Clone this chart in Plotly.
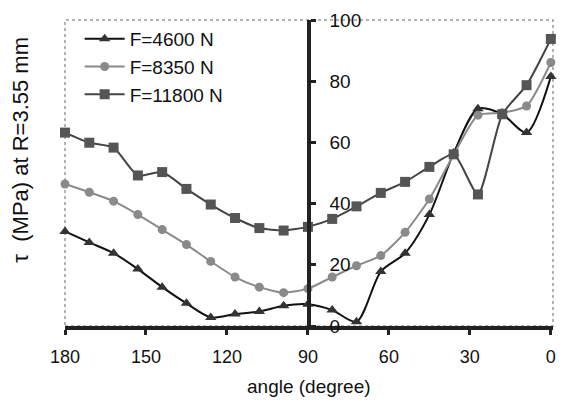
import plotly.graph_objects as go

angles = [180, 171, 162, 153, 144, 135, 126, 117, 108, 99, 90, 81, 72, 63, 54, 45, 36, 27, 18, 9, 0]
f4600 = [30.9, 27.3, 23.8, 18.6, 12.7, 7.4, 2.8, 3.9, 4.7, 6.6, 7.1, 5.2, 1.4, 17.8, 23.8, 36.4, 56.5, 71.0, 69.2, 63.2, 81.5]
f8350 = [46.4, 43.7, 40.8, 36.4, 31.5, 26.6, 21.1, 16.0, 12.7, 10.9, 12.2, 16.0, 19.7, 23.0, 30.6, 41.5, 56.0, 68.9, 69.7, 71.9, 86.1]
f11800 = [63.2, 59.9, 58.3, 49.2, 50.3, 44.8, 39.7, 35.3, 32.0, 31.2, 32.4, 35.0, 39.1, 43.5, 47.1, 52.0, 56.1, 43.0, 69.2, 78.7, 93.8]
names = ["F=4600 N", "F=8350 N", "F=11800 N"]
yticks = [0, 20, 40, 60, 80, 100]
xticks = [180, 150, 120, 90, 60, 30, 0]

FONT = "Liberation Sans, Arial, sans-serif"

fig = go.Figure()
fig.add_trace(go.Scatter(x=angles, y=f4600, name=names[0], mode="lines+markers",
                         line=dict(color="#111111", width=2, shape="spline", smoothing=0.8),
                         marker=dict(symbol="triangle-up", size=10, color="#333333"),
                         cliponaxis=False))
fig.add_trace(go.Scatter(x=angles, y=f8350, name=names[1], mode="lines+markers",
                         line=dict(color="#8a8a8a", width=2, shape="spline", smoothing=0.6),
                         marker=dict(symbol="circle", size=9, color="#8a8a8a"),
                         cliponaxis=False))
fig.add_trace(go.Scatter(x=angles, y=f11800, name=names[2], mode="lines+markers",
                         line=dict(color="#444444", width=2, shape="spline", smoothing=0.6),
                         marker=dict(symbol="square", size=10, color="#555555"),
                         cliponaxis=False))

fig.update_layout(
    width=563, height=404,
    margin=dict(l=65, r=7, t=20, b=78),
    paper_bgcolor="white", plot_bgcolor="white",
    font=dict(family=FONT, size=18, color="#111111"),
    showlegend=True,
    legend=dict(x=0.03, y=1.0, xanchor="left", yanchor="top",
                bgcolor="rgba(255,255,255,0)", borderwidth=0,
                font=dict(size=19, family=FONT), tracegroupgap=0, itemwidth=40),
    xaxis=dict(range=[180, -0.8], tickvals=xticks, ticktext=[str(v) for v in xticks],
               showline=True, linecolor="#222222", linewidth=4,
               ticks="outside", ticklen=5, tickwidth=3, tickcolor="#222222",
               showgrid=False, zeroline=False, ticklabelstandoff=6,
               tickfont=dict(size=18, family=FONT)),
    yaxis=dict(range=[0, 100], tickvals=yticks, ticktext=[str(v) for v in yticks],
               anchor="free", position=0.4995, side="right",
               showline=True, linecolor="#222222", linewidth=4,
               ticks="outside", ticklen=5, tickwidth=3, tickcolor="#222222",
               showgrid=False, zeroline=False, ticklabelstandoff=10,
               tickfont=dict(size=19, family=FONT)),
    shapes=[dict(type="rect", xref="paper", yref="paper", x0=0, x1=1, y0=0, y1=1,
                 line=dict(color="#999999", width=1.5, dash="dot"), layer="below")],
    annotations=[
        dict(text="τ  (MPa) at R=3.55 mm", xref="paper", yref="paper", x=-0.093, y=0.575,
             xanchor="center", yanchor="middle", textangle=-90, showarrow=False,
             font=dict(size=22, family=FONT)),
        dict(text="angle (degree)", xref="paper", yref="paper", x=0.5, y=-0.198,
             xanchor="center", yanchor="middle", showarrow=False,
             font=dict(size=19, family=FONT)),
    ],
)

fig.write_html("out.html")
